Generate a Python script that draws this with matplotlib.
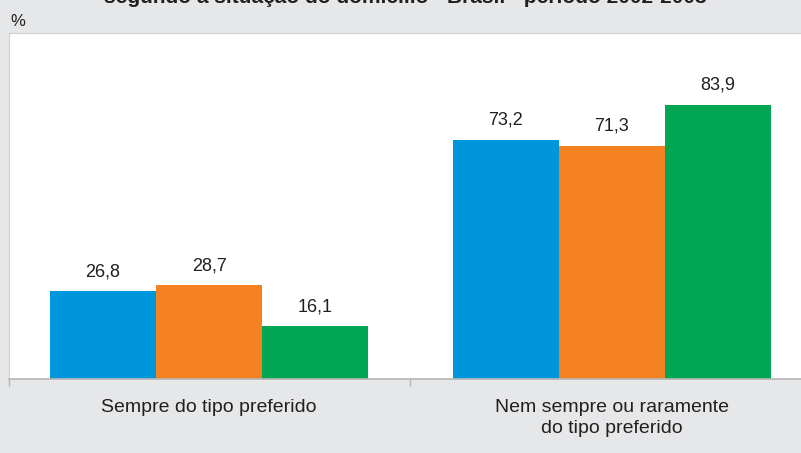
import numpy as np
import matplotlib.pyplot as plt

# dados
categorias = ["Sempre do tipo preferido", "Nem sempre ou raramente\ndo tipo preferido"]
series = ["Total", "Urbana", "Rural"]
total = [26.8, 73.2]
urbana = [28.7, 71.3]
rural = [16.1, 83.9]
cores = ["#0096DB", "#F58220", "#00A651"]
titulo = "segundo a situação do domicílio - Brasil - período 2002-2003"

plt.rcParams['font.family'] = ['Liberation Sans', 'DejaVu Sans']

fig = plt.figure(figsize=(8.01, 4.53), dpi=100)
fig.patch.set_facecolor("#E6E7E8")
W, H = 801, 453
ax = fig.add_axes([9/W, (H-379)/H, (W-9)/W, (379-33)/H])
ax.set_facecolor("white")

centros = np.array([0.0, 3.8])
largura = 1.0
for i, (vals, cor) in enumerate(zip([total, urbana, rural], cores)):
    x = centros + (i-1)*largura
    barras = ax.bar(x, vals, width=largura, color=cor, label=series[i])
    for b, v in zip(barras, vals):
        ax.annotate(f"{v:.1f}".replace(".", ","), (b.get_x()+b.get_width()/2, v),
                    xytext=(0, 8), textcoords="offset points",
                    ha="center", va="bottom", fontsize=13, color="#231f20")

ax.set_xlim(-1.887, 5.585)
ax.set_ylim(0, 105.8)
ax.set_yticks([])
ax.set_xticks([-1.887, 1.896])
ax.set_xticklabels([])
ax.tick_params(axis="x", length=5, color="#b5b5b5", width=1)
for c, nome in zip(centros, categorias):
    ax.text(c, -6.2, nome, ha="center", va="top", fontsize=14, color="#231f20",
            linespacing=1.25, transform=ax.transData, clip_on=False)

ax.spines["right"].set_visible(False)
for s in ["top", "left"]:
    ax.spines[s].set_color("#cfcfcf")
ax.spines["bottom"].set_color("#b5b5b5")
ax.spines["bottom"].set_linewidth(1.2)

fig.text(10/W, 1-22/H, "%", fontsize=12, color="#231f20", va="center", ha="left")
fig.text(405/W, 1-3/H, titulo, fontsize=15, fontweight="bold", color="#231f20",
         ha="center", va="baseline")

fig.savefig("out.png", dpi=100, facecolor=fig.get_facecolor())
